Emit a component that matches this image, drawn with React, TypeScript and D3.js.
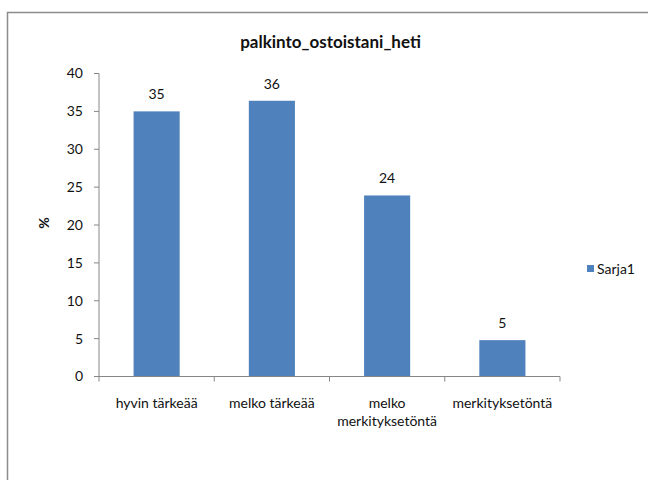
import React from "react";
import * as d3 from "d3";

const title = "palkinto_ostoistani_heti";
const categories = ["hyvin tärkeää", "melko tärkeää", "melko merkityksetöntä", "merkityksetöntä"];
const categoryLines = [["hyvin tärkeää"], ["melko tärkeää"], ["melko", "merkityksetöntä"], ["merkityksetöntä"]];
const values = [35, 36.4, 23.9, 4.8];
const yTicks = [0, 5, 10, 15, 20, 25, 30, 35, 40];
const seriesName = "Sarja1";
const yLabel = "%";

const W = 648;
const H = 480;
const plot = { left: 99, right: 560, top: 73.5, bottom: 376.5 };
const FONT = "Lato, 'Open Sans', sans-serif";
const BAR = "#4F81BD";
const AXIS = "#868686";
const TEXT = "#111";

export default function App() {
  const x = d3.scaleBand<string>().domain(categories).range([plot.left, plot.right]).paddingInner(0).paddingOuter(0);
  const y = d3.scaleLinear().domain([0, 40]).range([plot.bottom, plot.top]);
  const barW = x.bandwidth() * 0.4;
  const fmt = d3.format(".0f");
  const bounds = [plot.left, ...categories.map((c) => (x(c) as number) + x.bandwidth())];

  return (
    <svg width={W} height={H} style={{ position: "fixed", left: 0, top: 0, background: "#fff" }} fontFamily={FONT}>
      <rect x={0} y={0} width={W} height={H} fill="#fff" />
      {/* chart frame */}
      <rect x={7.5} y={12.5} width={W + 20} height={H + 20} fill="none" stroke="#8c8c8c" strokeWidth={1.5} />
      <text x={330.5} y={48} textAnchor="middle" fontSize={17} fontWeight={700} fill={TEXT}>{title}</text>

      {/* y axis */}
      <line x1={plot.left} x2={plot.left} y1={plot.top} y2={plot.bottom} stroke={AXIS} />
      {yTicks.map((t) => (
        <g key={t}>
          <line x1={plot.left - 5} x2={plot.left} y1={y(t)} y2={y(t)} stroke={AXIS} />
          <text x={83} y={y(t)} dy="0.35em" textAnchor="end" fontSize={14} fill={TEXT}>{t}</text>
        </g>
      ))}
      <text transform={`translate(44,223) rotate(-90)`} textAnchor="middle" dy="0.35em" fontSize={14} fontWeight={700} fill={TEXT}>{yLabel}</text>

      {/* bars */}
      {categories.map((c, i) => {
        const cx = (x(c) as number) + x.bandwidth() / 2;
        return (
          <g key={c}>
            <rect x={cx - barW / 2} y={y(values[i])} width={barW} height={y(0) - y(values[i])} fill={BAR} />
            <text x={cx} y={y(values[i]) - 17} dy="0.35em" textAnchor="middle" fontSize={14} fill={TEXT}>{fmt(values[i])}</text>
          </g>
        );
      })}

      {/* x axis */}
      <line x1={plot.left} x2={plot.right} y1={plot.bottom} y2={plot.bottom} stroke={AXIS} />
      {bounds.map((b, i) => (
        <line key={i} x1={b} x2={b} y1={plot.bottom} y2={plot.bottom + 5} stroke={AXIS} />
      ))}
      {categories.map((c, i) => {
        const cx = (x(c) as number) + x.bandwidth() / 2;
        return (
          <text key={c} x={cx} y={403} textAnchor="middle" fontSize={14} fill={TEXT}>
            {categoryLines[i].map((ln, j) => (
              <tspan key={j} x={cx} dy={j === 0 ? "0.35em" : 18}>{ln}</tspan>
            ))}
          </text>
        );
      })}

      {/* legend */}
      <rect x={587} y={265} width={7} height={7} fill={BAR} />
      <text x={597} y={269} dy="0.35em" fontSize={14} fill={TEXT}>{seriesName}</text>
    </svg>
  );
}
